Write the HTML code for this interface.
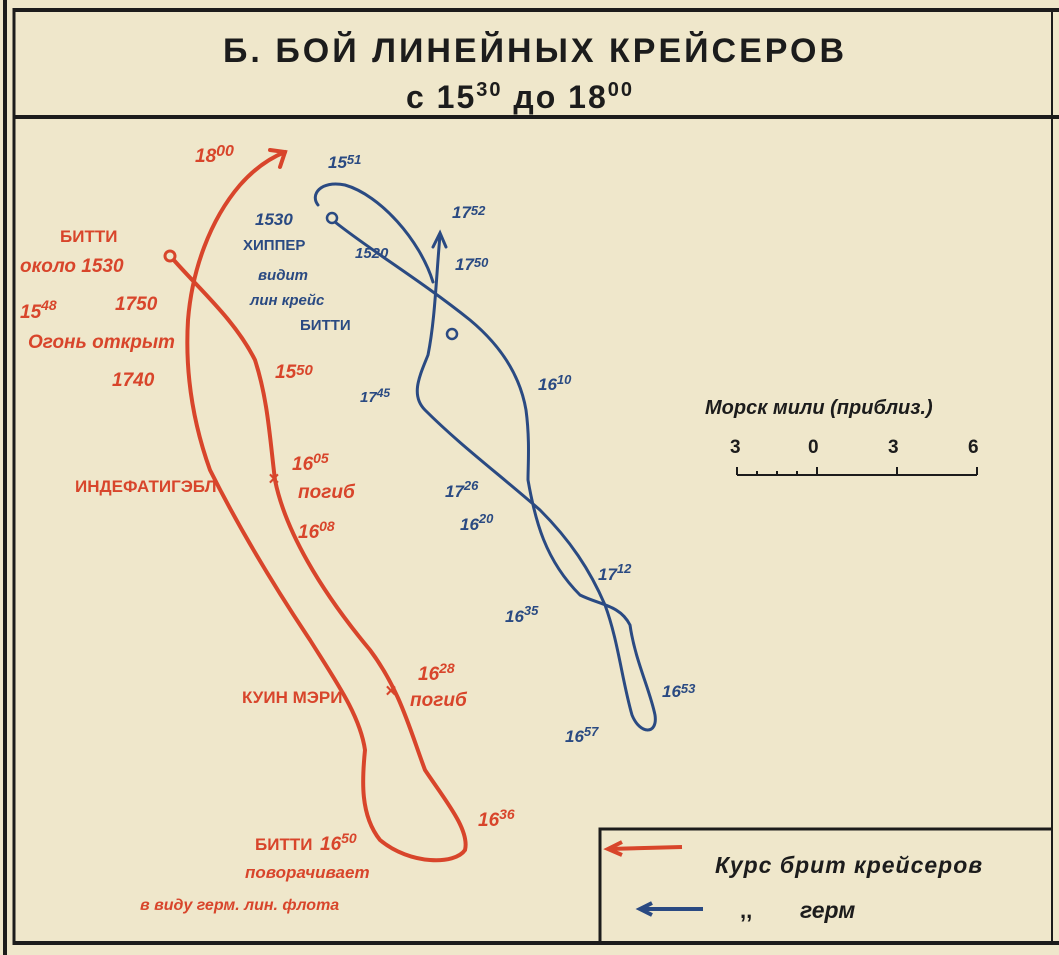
<!DOCTYPE html>
<html><head><meta charset="utf-8"><style>
html,body{margin:0;padding:0;background:#efe7cb;}
svg{display:block}
.r{fill:#d8452b;font-family:"Liberation Sans",sans-serif;font-style:italic;font-weight:bold;font-size:19px}
.rb{fill:#d8452b;font-family:"Liberation Sans",sans-serif;font-weight:bold;font-size:17px}
.b{fill:#2a4a82;font-family:"Liberation Sans",sans-serif;font-style:italic;font-weight:bold;font-size:17px}
.bb{fill:#2a4a82;font-family:"Liberation Sans",sans-serif;font-weight:bold;font-size:15px}
.k{fill:#1c1c1c;font-family:"Liberation Sans",sans-serif;font-weight:bold}
sup{font-size:12px}
</style></head><body>
<svg width="1059" height="955" viewBox="0 0 1059 955">
<rect width="1059" height="955" fill="#efe7cb"/>
<g stroke="#1c1c1c" fill="none">
<line x1="5" y1="0" x2="5" y2="955" stroke-width="4"/>
<line x1="14" y1="8" x2="14" y2="945" stroke-width="3"/>
<line x1="14" y1="10" x2="1059" y2="10" stroke-width="4"/>
<line x1="14" y1="117" x2="1059" y2="117" stroke-width="4"/>
<line x1="14" y1="943" x2="1059" y2="943" stroke-width="4"/>
<line x1="1052" y1="10" x2="1052" y2="943" stroke-width="2"/>
<polyline points="600,943 600,829 1052,829" stroke-width="3"/>
</g>
<text x="535" y="62" text-anchor="middle" class="k" font-size="34" letter-spacing="3">Б. БОЙ ЛИНЕЙНЫХ КРЕЙСЕРОВ</text>
<text x="520" y="108" text-anchor="middle" class="k" font-size="32" letter-spacing="2">с 15<tspan font-size="20" dy="-12">30</tspan><tspan dy="12"> до 18</tspan><tspan font-size="20" dy="-12">00</tspan></text>

<!-- red british course -->
<g stroke="#d8452b" stroke-width="4" fill="none" stroke-linecap="round">
<path d="M172,258 C200,290 235,320 255,360 C268,400 270,440 275,480 C285,530 320,590 370,650 C400,690 410,730 425,770 C445,800 470,830 465,850 C455,865 410,865 380,840 C360,815 362,780 365,750 C360,715 335,680 310,640 C270,580 235,520 210,470 C192,420 185,370 188,320 C192,270 210,220 240,185 C255,168 270,158 285,152"/>
<polyline points="270,150 285,152 280,167"/>
</g>
<circle cx="170" cy="256" r="5" fill="#efe7cb" stroke="#d8452b" stroke-width="3"/>
<g class="r">
<text x="195" y="162">18<tspan font-size="16" dy="-6">00</tspan></text>
<text x="60" y="242" class="rb" font-style="normal">БИТТИ</text>
<text x="20" y="272">около 1530</text>
<text x="20" y="318">15<tspan font-size="14" dy="-8">48</tspan></text>
<text x="115" y="310">1750</text>
<text x="28" y="348">Огонь открыт</text>
<text x="112" y="386">1740</text>
<text x="275" y="378">15<tspan font-size="15" dy="-3">50</tspan></text>
<text x="292" y="470">16<tspan font-size="14" dy="-7">05</tspan></text>
<text x="298" y="498">погиб</text>
<text x="298" y="538">16<tspan font-size="14" dy="-7">08</tspan></text>
<text x="418" y="680">16<tspan font-size="14" dy="-7">28</tspan></text>
<text x="410" y="706">погиб</text>
<text x="478" y="826">16<tspan font-size="14" dy="-7">36</tspan></text>
<text x="320" y="850">16<tspan font-size="14" dy="-7">50</tspan></text>
<text x="140" y="910" font-size="16">в виду герм. лин. флота</text>
</g>
<g class="rb">
<text x="75" y="492">ИНДЕФАТИГЭБЛ</text>
<text x="242" y="703">КУИН МЭРИ</text>
<text x="255" y="850">БИТТИ</text>
<text x="245" y="878" font-style="italic">поворачивает</text>
</g>
<g class="r" font-size="20"><text x="268" y="485">×</text><text x="385" y="697">×</text></g>

<!-- blue german course -->
<g stroke="#2a4a82" stroke-width="3" fill="none" stroke-linecap="round">
<path d="M335,222 C370,250 420,280 470,320 C500,345 520,375 526,410 C530,440 528,465 528,480 C535,520 545,560 580,595 C600,605 620,605 630,625 C635,660 650,690 655,715 C658,735 640,735 632,715 C622,680 618,640 605,605 C590,570 570,540 540,510 C500,475 460,445 425,410 C410,395 420,375 428,355 C435,320 436,280 440,235"/>
<polyline points="433,247 440,233 446,247"/>
<path d="M433,282 C420,240 380,195 345,185 C320,180 310,195 318,205"/>
</g>
<circle cx="332" cy="218" r="5" fill="#efe7cb" stroke="#2a4a82" stroke-width="2.5"/>
<circle cx="452" cy="334" r="5" fill="#efe7cb" stroke="#2a4a82" stroke-width="2.5"/>
<g class="b">
<text x="328" y="168">15<tspan font-size="13" dy="-4">51</tspan></text>
<text x="255" y="225">1530</text>
<text x="355" y="258" font-size="15">1520</text>
<text x="452" y="218">17<tspan font-size="13" dy="-3">52</tspan></text>
<text x="455" y="270">17<tspan font-size="13" dy="-3">50</tspan></text>
<text x="538" y="390">16<tspan font-size="13" dy="-6">10</tspan></text>
<text x="360" y="402" font-size="15">17<tspan font-size="12" dy="-5">45</tspan></text>
<text x="445" y="497">17<tspan font-size="13" dy="-7">26</tspan></text>
<text x="460" y="530">16<tspan font-size="13" dy="-7">20</tspan></text>
<text x="598" y="580">17<tspan font-size="13" dy="-7">12</tspan></text>
<text x="505" y="622">16<tspan font-size="13" dy="-7">35</tspan></text>
<text x="662" y="697">16<tspan font-size="13" dy="-4">53</tspan></text>
<text x="565" y="742">16<tspan font-size="13" dy="-6">57</tspan></text>
</g>
<g class="bb">
<text x="243" y="250">ХИППЕР</text>
<text x="258" y="280" font-style="italic">видит</text>
<text x="250" y="305" font-style="italic">лин крейс</text>
<text x="300" y="330">БИТТИ</text>
</g>

<!-- scale -->
<text x="705" y="414" class="k" font-size="20" font-style="italic">Морск мили (приблиз.)</text>
<g class="k" font-size="19" font-weight="normal"><text x="730" y="453">3</text><text x="808" y="453">0</text><text x="888" y="453">3</text><text x="968" y="453">6</text></g>
<g stroke="#1c1c1c" stroke-width="2"><line x1="737" y1="475" x2="977" y2="475"/>
<line x1="737" y1="467" x2="737" y2="475"/><line x1="817" y1="467" x2="817" y2="475"/><line x1="897" y1="467" x2="897" y2="475"/><line x1="977" y1="467" x2="977" y2="475"/>
<line x1="757" y1="471" x2="757" y2="475"/><line x1="777" y1="471" x2="777" y2="475"/><line x1="797" y1="471" x2="797" y2="475"/></g>

<!-- legend -->
<g stroke-width="4" fill="none"><line x1="608" y1="849" x2="682" y2="847" stroke="#d8452b"/><polyline points="622,842 608,849 622,855" stroke="#d8452b"/>
<line x1="640" y1="909" x2="703" y2="909" stroke="#2a4a82"/><polyline points="652,903 640,909 652,915" stroke="#2a4a82"/></g>
<text x="715" y="873" class="k" font-size="23" font-style="italic" font-weight="normal" letter-spacing="1">Курс брит крейсеров</text>
<text x="740" y="918" class="k" font-size="22">,,</text>
<text x="800" y="918" class="k" font-size="23" font-style="italic" font-weight="normal">герм</text>
</svg>
</body></html>
